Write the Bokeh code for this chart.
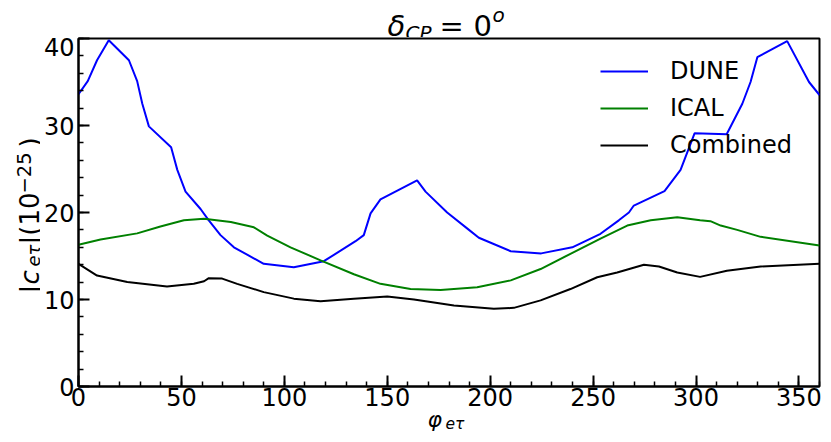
import math
from bokeh.plotting import figure
from bokeh.layouts import row, column
from bokeh.models import Range1d, SingleIntervalTicker, Label, Legend, LegendItem
from bokeh.embed import file_html
from bokeh.resources import INLINE

# ---- data ----
dune_phi = [0, 4.5, 9, 14.7, 24.5, 28.5, 31, 34.2, 45, 48, 52, 59.3, 63.3, 69, 75.5, 90,
            104.6, 119.2, 134.6, 138.6, 141.9, 146.7, 164.5, 168.6, 179.1, 189.7, 194.5,
            210, 224.8, 239.9, 253.6, 262.5, 267.4, 269.8, 284.7, 292.5, 299.3, 314.9,
            322.5, 326.5, 329.8, 344.3, 354.9, 360]
dune_c = [33.6, 35.1, 37.5, 39.8, 37.5, 35.1, 32.5, 29.9, 27.5, 24.9, 22.4, 20.4, 19.1, 17.4,
          16.0, 14.1, 13.7, 14.4, 16.7, 17.4, 19.9, 21.5, 23.7, 22.4, 20.0, 18.0, 17.1,
          15.55, 15.3, 16.0, 17.55, 19.1, 20.0, 20.8, 22.45, 24.9, 29.1, 29.0,
          32.5, 35.0, 37.85, 39.7, 35.0, 33.5]

ical_phi = [0, 10.7, 28.5, 39.8, 51.2, 61, 74, 85.2, 91.7, 103, 117.6, 133.8, 146.7, 161.3,
            175.9, 193.7, 210, 224.5, 239, 253.6, 266.6, 278, 290.9, 302, 307, 312, 320,
            331.4, 360]
ical_c = [16.3, 16.9, 17.6, 18.4, 19.1, 19.27, 18.9, 18.3, 17.35, 16.0, 14.5, 12.9, 11.8, 11.2,
          11.1, 11.4, 12.2, 13.5, 15.25, 17.0, 18.5, 19.1, 19.46, 19.1, 19.0, 18.5, 18.0,
          17.2, 16.2]

comb_phi = [0, 9, 23.7, 43, 56, 61, 63.3, 69.8, 77.1, 90, 104.6, 117.6, 133.8, 150, 163,
            182.4, 201.8, 211.5, 224.5, 239, 252, 261.7, 274.7, 282, 290.9, 302, 315,
            331.4, 360]
comb_c = [14.1, 12.75, 12.0, 11.5, 11.8, 12.1, 12.45, 12.4, 11.8, 10.85, 10.1, 9.8, 10.1, 10.35,
          10.0, 9.3, 8.93, 9.04, 9.9, 11.2, 12.56, 13.1, 14.0, 13.8, 13.1, 12.6, 13.3,
          13.8, 14.1]

series_names = ["DUNE", "ICAL", "Combined"]
x_ticks_interval = 50
y_ticks_interval = 10

FONT = "DejaVu Sans"
YL_W = 40      # width of the y-label strip
MAIN_L = 38    # left border of the main plot (frame at 78)
TITLE_H = 37   # height of the title strip
XL_H = 28      # height of the x-label strip

# ---------------- main plot ----------------
p = figure(frame_width=741, frame_height=348, x_range=Range1d(0, 360), y_range=Range1d(0, 40),
           output_backend="svg", toolbar_location=None, title=None, frame_align=False,
           min_border_left=MAIN_L, min_border_right=4, min_border_top=1, min_border_bottom=0,
           border_fill_alpha=0, background_fill_alpha=0)

p.xgrid.visible = False
p.ygrid.visible = False
p.outline_line_color = "black"
p.outline_line_width = 2
p.outline_line_alpha = 1.0

p.xaxis.ticker = SingleIntervalTicker(interval=x_ticks_interval, num_minor_ticks=5)
p.yaxis.ticker = SingleIntervalTicker(interval=y_ticks_interval, num_minor_ticks=5)
for ax in (p.xaxis[0], p.yaxis[0]):
    ax.major_tick_in = 11
    ax.major_tick_out = 0
    ax.minor_tick_in = 5
    ax.minor_tick_out = 0
    ax.major_tick_line_width = 2
    ax.minor_tick_line_width = 1.5
    ax.major_tick_line_color = "black"
    ax.minor_tick_line_color = "black"
    ax.axis_line_width = 2
    ax.axis_line_color = "black"
    ax.major_label_text_font = FONT
    ax.major_label_text_font_size = "24px"
    ax.major_label_text_color = "black"
p.xaxis.major_label_standoff = 1
p.yaxis.major_label_standoff = 4

r1 = p.line(dune_phi, dune_c, line_color="#0000ff", line_width=2)
r2 = p.line(ical_phi, ical_c, line_color="#008000", line_width=2)
r3 = p.line(comb_phi, comb_c, line_color="black", line_width=2)

legend = Legend(items=[LegendItem(label=series_names[0], renderers=[r1]),
                       LegendItem(label=series_names[1], renderers=[r2]),
                       LegendItem(label=series_names[2], renderers=[r3])],
                location=(522, 226), glyph_width=48, glyph_height=30, label_height=30,
                label_standoff=22, spacing=7, padding=0, margin=0,
                border_line_alpha=0, background_fill_alpha=0,
                label_text_font=FONT, label_text_font_size="24px", label_text_color="black")
p.add_layout(legend)

# ---------------- text strips ----------------
def strip(w, h):
    f = figure(width=w, height=h, x_range=Range1d(0, 1), y_range=Range1d(0, 1),
               x_axis_type=None, y_axis_type=None, output_backend="svg",
               toolbar_location=None, title=None, min_border=0, frame_align=False,
               outline_line_color=None, border_fill_alpha=0, background_fill_alpha=0)
    f.grid.visible = False
    return f

MAIN_W = MAIN_L + 741 + 4
title_fig = strip(MAIN_W, TITLE_H)
xl_fig = strip(MAIN_W, XL_H)

DESC = 0.23  # observed baseline drop of rendered labels, as fraction of font size

def put(fig, ox, oy, h, text, px, py, size, italic=False, angle=0.0):
    # px, py: wanted baseline start in picture pixels; (ox, oy): strip's top-left
    if angle:
        px -= DESC * size
    else:
        py -= DESC * size
    fig.add_layout(Label(x=px - ox, y=(oy + h) - py, x_units="screen", y_units="screen",
                         text=text, text_font=FONT, text_font_size=f"{size}px",
                         text_font_style="italic" if italic else "normal",
                         text_align="left", text_baseline="alphabetic",
                         text_color="black", angle=angle))

# title  δ_CP = 0^o
T = (title_fig, YL_W, 0, TITLE_H)
put(*T, "δ", 387, 32, 29, italic=True)
put(*T, "CP", 405, 37, 20, italic=True)
put(*T, "=", 439, 32, 29)
put(*T, "0", 473, 32, 29)
put(*T, "o", 492, 19, 20, italic=True)

MAIN_H_EST = 1 + 348 + 28
TOTAL_H = TITLE_H + MAIN_H_EST + XL_H
yl_fig = strip(YL_W, TOTAL_H)

# x label  φ_eτ
X = (xl_fig, YL_W, TITLE_H + MAIN_H_EST, XL_H)
put(*X, "φ", 427, 430, 22, italic=True)
put(*X, "eτ", 445, 433, 15.5, italic=True)

# y label  |c_eτ|(10^-25), rotated
A = math.pi / 2
Y = (yl_fig, 0, 0, TOTAL_H)
put(*Y, "|", 35, 293, 26, angle=A)
put(*Y, "c", 35, 284, 26, italic=True, angle=A)
put(*Y, "eτ", 37, 266, 18, italic=True, angle=A)
put(*Y, "|(10", 35, 244, 26, angle=A)
put(*Y, "−25", 28, 193, 19.5, angle=A)
put(*Y, ")", 35, 147, 26, angle=A)

layout = row(yl_fig, column(title_fig, p, xl_fig))

open("out.html", "w").write(file_html(layout, INLINE))
